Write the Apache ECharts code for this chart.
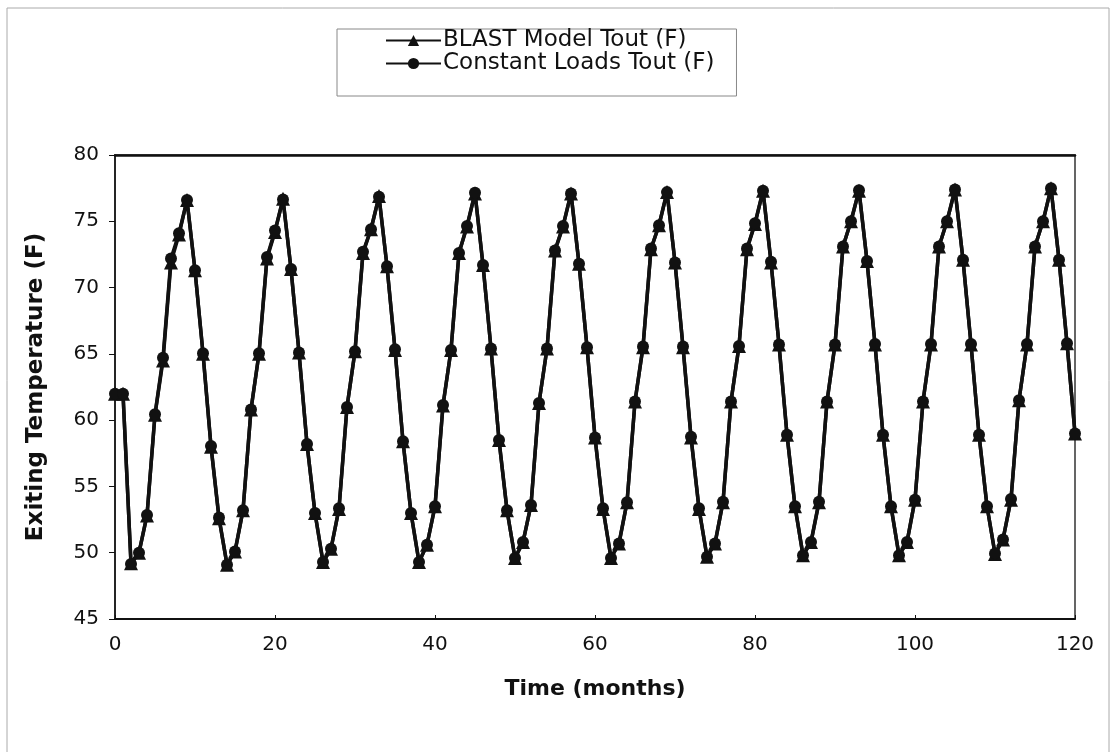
<!DOCTYPE html>
<html>
<head>
<meta charset="utf-8">
<title>Exiting Temperature</title>
<script src="https://cdn.jsdelivr.net/npm/echarts@6/dist/echarts.min.js"></script>
<style>
  html, body { margin: 0; padding: 0; background: #fff; }
  #myChart { width: 1114px; height: 752px; }
</style>
</head>
<body>
<div id="myChart"></div>
<script>
// months 0..120
var months = [];
for (var m = 0; m <= 120; m++) months.push(m);

// BLAST Model Tout (F)
var blastTout = [
  62.0, 62.0, 49.2, 50.0, 52.8, 60.4, 64.5, 71.9, 74.0, 76.6,
  71.3, 65.0, 58.0, 52.6, 49.1, 50.1, 53.2, 60.8, 65.0, 72.2,
  74.2, 76.7, 71.4, 65.1, 58.2, 53.0, 49.3, 50.3, 53.3, 61.0,
  65.2, 72.6, 74.4, 76.9, 71.6, 65.3, 58.4, 53.0, 49.3, 50.6,
  53.5, 61.1, 65.3, 72.6, 74.6, 77.1, 71.7, 65.4, 58.5, 53.2,
  49.6, 50.8, 53.6, 61.3, 65.4, 72.8, 74.6, 77.1, 71.8, 65.5,
  58.7, 53.3, 49.6, 50.7, 53.8, 61.4, 65.5, 72.9, 74.7, 77.2,
  71.9, 65.5, 58.7, 53.3, 49.7, 50.7, 53.8, 61.4, 65.6, 72.9,
  74.8, 77.3, 71.9, 65.7, 58.9, 53.5, 49.8, 50.8, 53.8, 61.4,
  65.7, 73.1, 75.0, 77.3, 72.0, 65.7, 58.9, 53.5, 49.8, 50.8,
  54.0, 61.4, 65.7, 73.1, 75.0, 77.4, 72.1, 65.7, 58.9, 53.5,
  49.9, 51.0, 54.0, 61.5, 65.7, 73.1, 75.0, 77.5, 72.1, 65.8,
  59.0
];

// Constant Loads Tout (F)
var constTout = [
  62.0, 62.0, 49.15, 50.0, 52.85, 60.45, 64.7, 72.2, 74.1, 76.6,
  71.3, 65.05, 58.05, 52.65, 49.1, 50.1, 53.2, 60.8, 65.05, 72.3,
  74.3, 76.65, 71.4, 65.1, 58.2, 53.0, 49.3, 50.3, 53.35, 61.0,
  65.2, 72.7, 74.4, 76.85, 71.6, 65.35, 58.4, 53.0, 49.3, 50.6,
  53.5, 61.15, 65.3, 72.6, 74.65, 77.15, 71.7, 65.4, 58.5, 53.2,
  49.6, 50.8, 53.6, 61.3, 65.4, 72.8, 74.65, 77.1, 71.8, 65.5,
  58.7, 53.35, 49.6, 50.7, 53.8, 61.4, 65.55, 72.95, 74.7, 77.2,
  71.9, 65.55, 58.75, 53.35, 49.7, 50.7, 53.85, 61.4, 65.6, 72.95,
  74.85, 77.3, 71.95, 65.7, 58.9, 53.5, 49.8, 50.8, 53.85, 61.4,
  65.7, 73.1, 75.0, 77.35, 72.0, 65.75, 58.9, 53.5, 49.8, 50.8,
  54.0, 61.4, 65.75, 73.1, 75.0, 77.4, 72.1, 65.75, 58.9, 53.5,
  49.95, 51.0, 54.05, 61.5, 65.75, 73.1, 75.0, 77.5, 72.1, 65.8,
  59.0
];

var seriesNames = ['BLAST Model Tout (F)', 'Constant Loads Tout (F)'];
var xTitle = 'Time (months)';
var yTitle = 'Exiting Temperature (F)';

function pairs(ys) {
  return months.map(function (x, i) { return [x, ys[i]]; });
}

var myChart = echarts.init(document.getElementById('myChart'));
var FONT = 'DejaVu Sans';

var option = {
  animation: false,
  backgroundColor: '#fff',
  textStyle: { fontFamily: FONT, color: '#111' },
  graphic: [{
    type: 'rect',
    shape: { x: 7, y: 8, width: 1102, height: 760 },
    style: { fill: 'none', stroke: '#aaa', lineWidth: 1 },
    silent: true
  }],
  legend: {
    orient: 'vertical',
    left: 337,
    top: 29,
    padding: [0, 22, 21, 48],
    itemGap: 0,
    itemWidth: 55,
    itemHeight: 14,
    borderColor: '#888',
    borderWidth: 1,
    data: seriesNames,
    textStyle: { fontFamily: FONT, fontSize: 23, lineHeight: 23, color: '#111', padding: [0, 0, 0, -3] }
  },
  grid: {
    left: 115,
    right: 39,
    top: 155,
    bottom: 133,
    show: true,
    borderColor: '#333',
    borderWidth: 1.5
  },
  xAxis: [{
    type: 'value',
    min: 0,
    max: 120,
    interval: 20,
    name: xTitle,
    nameLocation: 'middle',
    nameGap: 59,
    nameTextStyle: { fontFamily: FONT, fontSize: 22, fontWeight: 'bold', color: '#111' },
    axisLine: { show: true, onZero: false, lineStyle: { color: '#111', width: 2 } },
    axisTick: { show: true, inside: true, length: 4, lineStyle: { color: '#111' } },
    axisLabel: { fontFamily: FONT, fontSize: 20, color: '#111', margin: 16 },
    splitLine: { show: false }
  }, {
    type: 'value',
    position: 'top',
    min: 0,
    max: 120,
    axisLine: { show: true, lineStyle: { color: '#111', width: 2.5 } },
    axisTick: { show: false },
    axisLabel: { show: false },
    splitLine: { show: false }
  }],
  yAxis: {
    type: 'value',
    min: 45,
    max: 80,
    interval: 5,
    name: yTitle,
    nameLocation: 'middle',
    nameRotate: 90,
    nameGap: 67,
    nameTextStyle: { fontFamily: FONT, fontSize: 23, fontWeight: 'bold', color: '#111' },
    axisLine: { show: true, lineStyle: { color: '#111', width: 1.5 } },
    axisTick: { show: true, length: 6, lineStyle: { color: '#111' } },
    axisLabel: { fontFamily: FONT, fontSize: 20, color: '#111', margin: 16 },
    splitLine: { show: false }
  },
  series: [
    {
      name: seriesNames[0],
      type: 'line',
      data: pairs(blastTout),
      symbol: 'triangle',
      symbolSize: 14,
      color: '#111',
      lineStyle: { color: '#111', width: 3.5 },
      itemStyle: { color: '#111' },
      z: 2
    },
    {
      name: seriesNames[1],
      type: 'line',
      data: pairs(constTout),
      symbol: 'circle',
      symbolSize: 12,
      color: '#111',
      lineStyle: { color: '#111', width: 3.5 },
      itemStyle: { color: '#111' },
      z: 3
    }
  ]
};
myChart.setOption(option);
</script>
</body>
</html>
